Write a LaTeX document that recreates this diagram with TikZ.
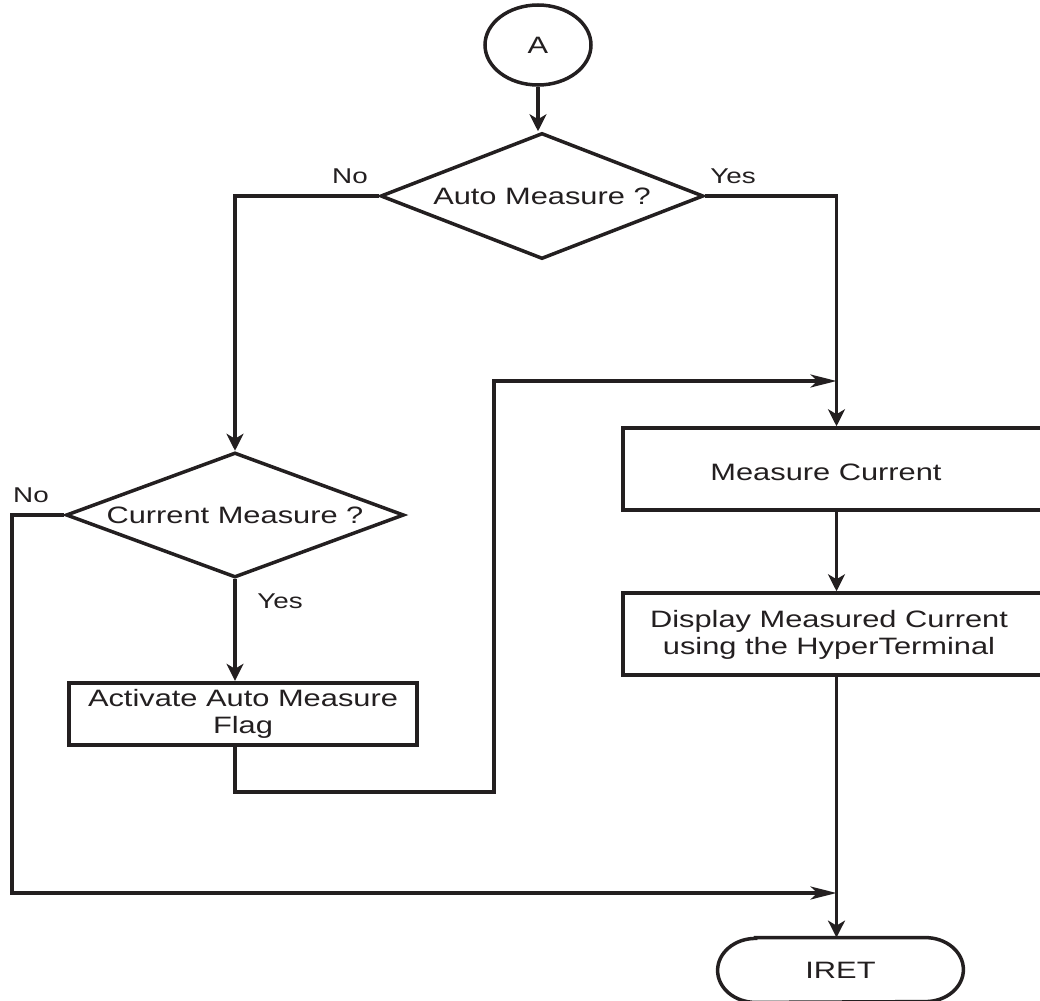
\documentclass[tikz,border=0pt]{standalone}
\usepackage{fontspec}
\setmainfont{Liberation Sans}[FakeStretch=1.3]
\usetikzlibrary{shapes.geometric,arrows.meta,calc}
\definecolor{ink}{RGB}{35,31,32}
\begin{document}
\begin{tikzpicture}[x=0.5pt,y=-0.5pt,
  every node/.style={text=ink, font=\fontsize{11.85pt}{13.5pt}\selectfont},
  shapeline/.style={draw=ink, line width=1.75pt},
  decision/.style={shapeline, diamond, inner sep=0pt, shape aspect=2.7},
  process/.style={shapeline, rectangle, inner sep=0pt, minimum height=41pt, align=center},
  conn/.style={draw=ink, line width=1.6pt},
  vflow/.style={conn, -{Stealth[length=8.5pt,width=8.5pt,inset=2.5pt]}},
  hflow/.style={conn, -{Stealth[length=13pt,width=6.5pt,inset=3.5pt]}},
  branch/.style={font=\fontsize{10.7pt}{12pt}\selectfont},
]
\path[use as bounding box, clip] (0,0) rectangle (1040,1001);

% entry connector
\node[shapeline, ellipse, minimum width=53pt, minimum height=40pt, inner sep=0pt] (a) at (538,45) {A};

% decisions
\node[decision, minimum width=161.5pt, minimum height=63pt] (d1) at (542,196) {Auto Measure ?};
\node[decision, minimum width=169pt, minimum height=62.5pt] (d2) at (235,515) {Current Measure ?};

% process boxes
\node[process, line width=2.2pt, minimum width=174pt, minimum height=31pt] (act) at (243,714) {Activate Auto Measure\\Flag};
\node[process, minimum width=213.5pt,
      label={[xshift=-5.25pt,yshift=-1.5pt]center:Measure Current}] (mc) at (836.5,469) {};
\node[process, minimum width=213.5pt,
      label={[xshift=-3.75pt,yshift=-0.5pt,align=center]center:Display Measured Current\\using the HyperTerminal}] (disp) at (836.5,634) {};

% terminator
\node[minimum width=122.5pt, minimum height=32pt, inner sep=0pt] (iret) at (840.5,970) {IRET};
\draw[shapeline] ($(iret.north west)+(38,0)$) -- ($(iret.north east)+(-38,0)$)
  arc[start angle=90,end angle=-90,x radius=19pt,y radius=16pt]
  -- ($(iret.south west)+(38,0)$)
  arc[start angle=270,end angle=90,x radius=19pt,y radius=16pt] -- cycle;

% flow
\draw[vflow] (a.south) -- (a.south |- d1.north);
\draw[vflow] (d1.west) -| (d2.north);
\node[branch] at (350,176) {No};
\draw[vflow] (d1.east) -| (mc.north);
\node[branch] at (733,176) {Yes};
\draw[vflow] (d2.south) -- (d2.south |- act.north);
\node[branch] at (280,601) {Yes};

\coordinate (fbA) at (494,792);
\coordinate (fbB) at (494,381);
\draw[hflow] (d2.south |- act.south) |- (fbA) -- (fbB) -- (fbB -| mc.north);

\coordinate (nb) at (12,893);
\draw[hflow] (d2.west) -| (nb) -- (nb -| disp.south);
\node[branch] at (31,495) {No};

\draw[vflow] (mc.south) -- (disp.north);
\draw[vflow] (disp.south) -- (disp.south |- iret.north);
\end{tikzpicture}
\end{document}
